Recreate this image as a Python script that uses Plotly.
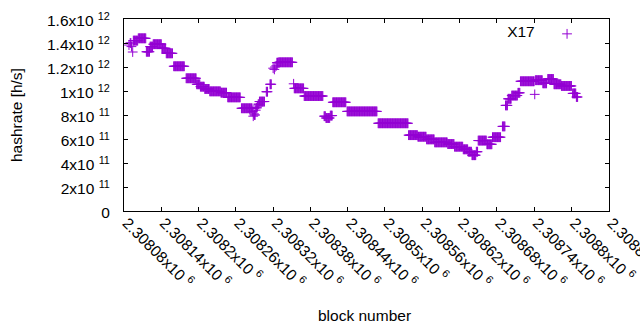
import plotly.graph_objects as go

# ---- data ----
x_min, x_max = 2308080, 2308860
y_min, y_max = 0, 1.6e12

x_tickvals = [2308080, 2308140, 2308200, 2308260, 2308320, 2308380, 2308440,
              2308500, 2308560, 2308620, 2308680, 2308740, 2308800, 2308860]
x_ticktext = ["2.30808x10 <sup>6</sup>", "2.30814x10 <sup>6</sup>", "2.3082x10 <sup>6</sup>",
              "2.30826x10 <sup>6</sup>", "2.30832x10 <sup>6</sup>", "2.30838x10 <sup>6</sup>",
              "2.30844x10 <sup>6</sup>", "2.3085x10 <sup>6</sup>", "2.30856x10 <sup>6</sup>",
              "2.30862x10 <sup>6</sup>", "2.30868x10 <sup>6</sup>", "2.30874x10 <sup>6</sup>",
              "2.3088x10 <sup>6</sup>", "2.30886x10 <sup>6</sup>"]
y_tickvals = [0, 2e11, 4e11, 6e11, 8e11, 1e12, 1.2e12, 1.4e12, 1.6e12]
y_ticktext = ["0", "2x10 <sup>11</sup>", "4x10 <sup>11</sup>", "6x10 <sup>11</sup>",
              "8x10 <sup>11</sup>", "1x10 <sup>12</sup>", "1.2x10 <sup>12</sup>",
              "1.4x10 <sup>12</sup>", "1.6x10 <sup>12</sup>"]

# runs of consecutive blocks sharing the same estimated hashrate [h/s]
run_start = [2308088, 2308090, 2308092, 2308094, 2308095, 2308103, 2308116, 2308122,
             2308127, 2308141, 2308148, 2308160, 2308180, 2308197, 2308203, 2308210,
             2308218, 2308236, 2308247, 2308269, 2308287, 2308288, 2308289, 2308290,
             2308292, 2308293, 2308295, 2308296, 2308298, 2308309, 2308315, 2308320,
             2308322, 2308323, 2308325, 2308326, 2308329, 2308353, 2308354, 2308370,
             2308402, 2308405, 2308412, 2308416, 2308439, 2308489, 2308538, 2308553,
             2308567, 2308580, 2308601, 2308612, 2308626, 2308634, 2308640, 2308647,
             2308650, 2308664, 2308673, 2308689, 2308694, 2308698, 2308704, 2308714,
             2308718, 2308741, 2308742, 2308754, 2308762, 2308772, 2308784, 2308802,
             2308808]
run_end = [2308088, 2308091, 2308092, 2308094, 2308102, 2308115, 2308121, 2308126,
           2308140, 2308147, 2308158, 2308177, 2308196, 2308202, 2308209, 2308217,
           2308235, 2308245, 2308267, 2308286, 2308287, 2308288, 2308289, 2308291,
           2308292, 2308294, 2308295, 2308297, 2308306, 2308311, 2308317, 2308320,
           2308322, 2308323, 2308325, 2308328, 2308351, 2308353, 2308369, 2308400,
           2308404, 2308411, 2308415, 2308437, 2308487, 2308537, 2308552, 2308566,
           2308579, 2308600, 2308611, 2308625, 2308633, 2308639, 2308646, 2308649,
           2308663, 2308672, 2308686, 2308693, 2308697, 2308703, 2308713, 2308717,
           2308740, 2308741, 2308753, 2308760, 2308771, 2308783, 2308800, 2308807,
           2308810]
run_value = [1.383e12, 1.40e12, 1.37e12, 1.325e12, 1.42e12, 1.439e12, 1.327e12, 1.37e12,
             1.39e12, 1.356e12, 1.314e12, 1.206e12, 1.106e12, 1.056e12, 1.036e12, 1.017e12,
             0.997e12, 0.986e12, 0.947e12, 0.856e12, 0.83e12, 0.79e12, 0.81e12, 0.80e12,
             0.84e12, 0.86e12, 0.875e12, 0.89e12, 0.912e12, 0.994e12, 1.056e12, 1.19e12,
             1.18e12, 1.20e12, 1.21e12, 1.236e12, 1.239e12, 1.06e12, 1.022e12, 0.958e12,
             0.79e12, 0.775e12, 0.795e12, 0.906e12, 0.83e12, 0.731e12, 0.632e12, 0.619e12,
             0.597e12, 0.572e12, 0.558e12, 0.536e12, 0.514e12, 0.494e12, 0.465e12, 0.494e12,
             0.587e12, 0.556e12, 0.615e12, 0.705e12, 0.88e12, 0.935e12, 0.962e12, 0.985e12,
             1.081e12, 0.972e12, 1.09e12, 1.064e12, 1.10e12, 1.056e12, 1.042e12, 0.98e12,
             0.95e12]

series_name = "X17"

blocks, rates = [], []
for s, e, v in zip(run_start, run_end, run_value):
    for b in range(s, e + 1):
        blocks.append(b)
        rates.append(v)

FONT = "Liberation Sans, Arial, sans-serif"
COLOR = "#9400D3"

fig = go.Figure()
fig.add_trace(go.Scatter(
    x=blocks, y=rates, mode="markers", name=" ",
    marker=dict(symbol="cross-thin", size=7, color=COLOR,
                line=dict(color=COLOR, width=1)),
))

axis_common = dict(showline=True, linecolor="black", linewidth=1, mirror="allticks",
                   ticks="inside", ticklen=4, tickcolor="black", tickwidth=1,
                   showgrid=False, zeroline=False, automargin=False,
                   tickfont=dict(family=FONT, size=15.5, color="black"))

fig.update_layout(
    width=640, height=330,
    margin=dict(l=124, r=31, t=19, b=119, autoexpand=False),
    paper_bgcolor="white", plot_bgcolor="white",
    font=dict(family=FONT, size=15.5, color="black"),
    xaxis=dict(range=[x_min, x_max + 0.5], tickmode="array", tickvals=x_tickvals,
               ticktext=x_ticktext, tickangle=45, ticklabelstandoff=-4,
               ticklabelshift=3, ticklabeloverflow="allow", **axis_common),
    yaxis=dict(range=[y_min, y_max], tickmode="array", tickvals=y_tickvals,
               ticktext=y_ticktext, ticklabelstandoff=10, ticklabelshift=2,
               **axis_common),
    showlegend=True,
    legend=dict(x=0.7859, y=1.009, xanchor="left", yanchor="top",
                bgcolor="rgba(0,0,0,0)", borderwidth=0,
                title=dict(text=series_name + " ", side="left",
                           font=dict(family=FONT, size=15.5, color="black")),
                font=dict(family=FONT, size=15.5, color="black")),
    annotations=[
        dict(text="hashrate [h/s]", xref="paper", yref="paper",
             x=(16 - 124) / 485, y=(211 - 115) / 192, textangle=-90,
             showarrow=False, xanchor="center", yanchor="middle",
             font=dict(family=FONT, size=15.5, color="black")),
        dict(text="block number", xref="paper", yref="paper",
             x=(364 - 124) / 485, y=(211 - 315) / 192,
             showarrow=False, xanchor="center", yanchor="middle",
             font=dict(family=FONT, size=15.5, color="black")),
    ],
)

fig.write_html("out.html")
